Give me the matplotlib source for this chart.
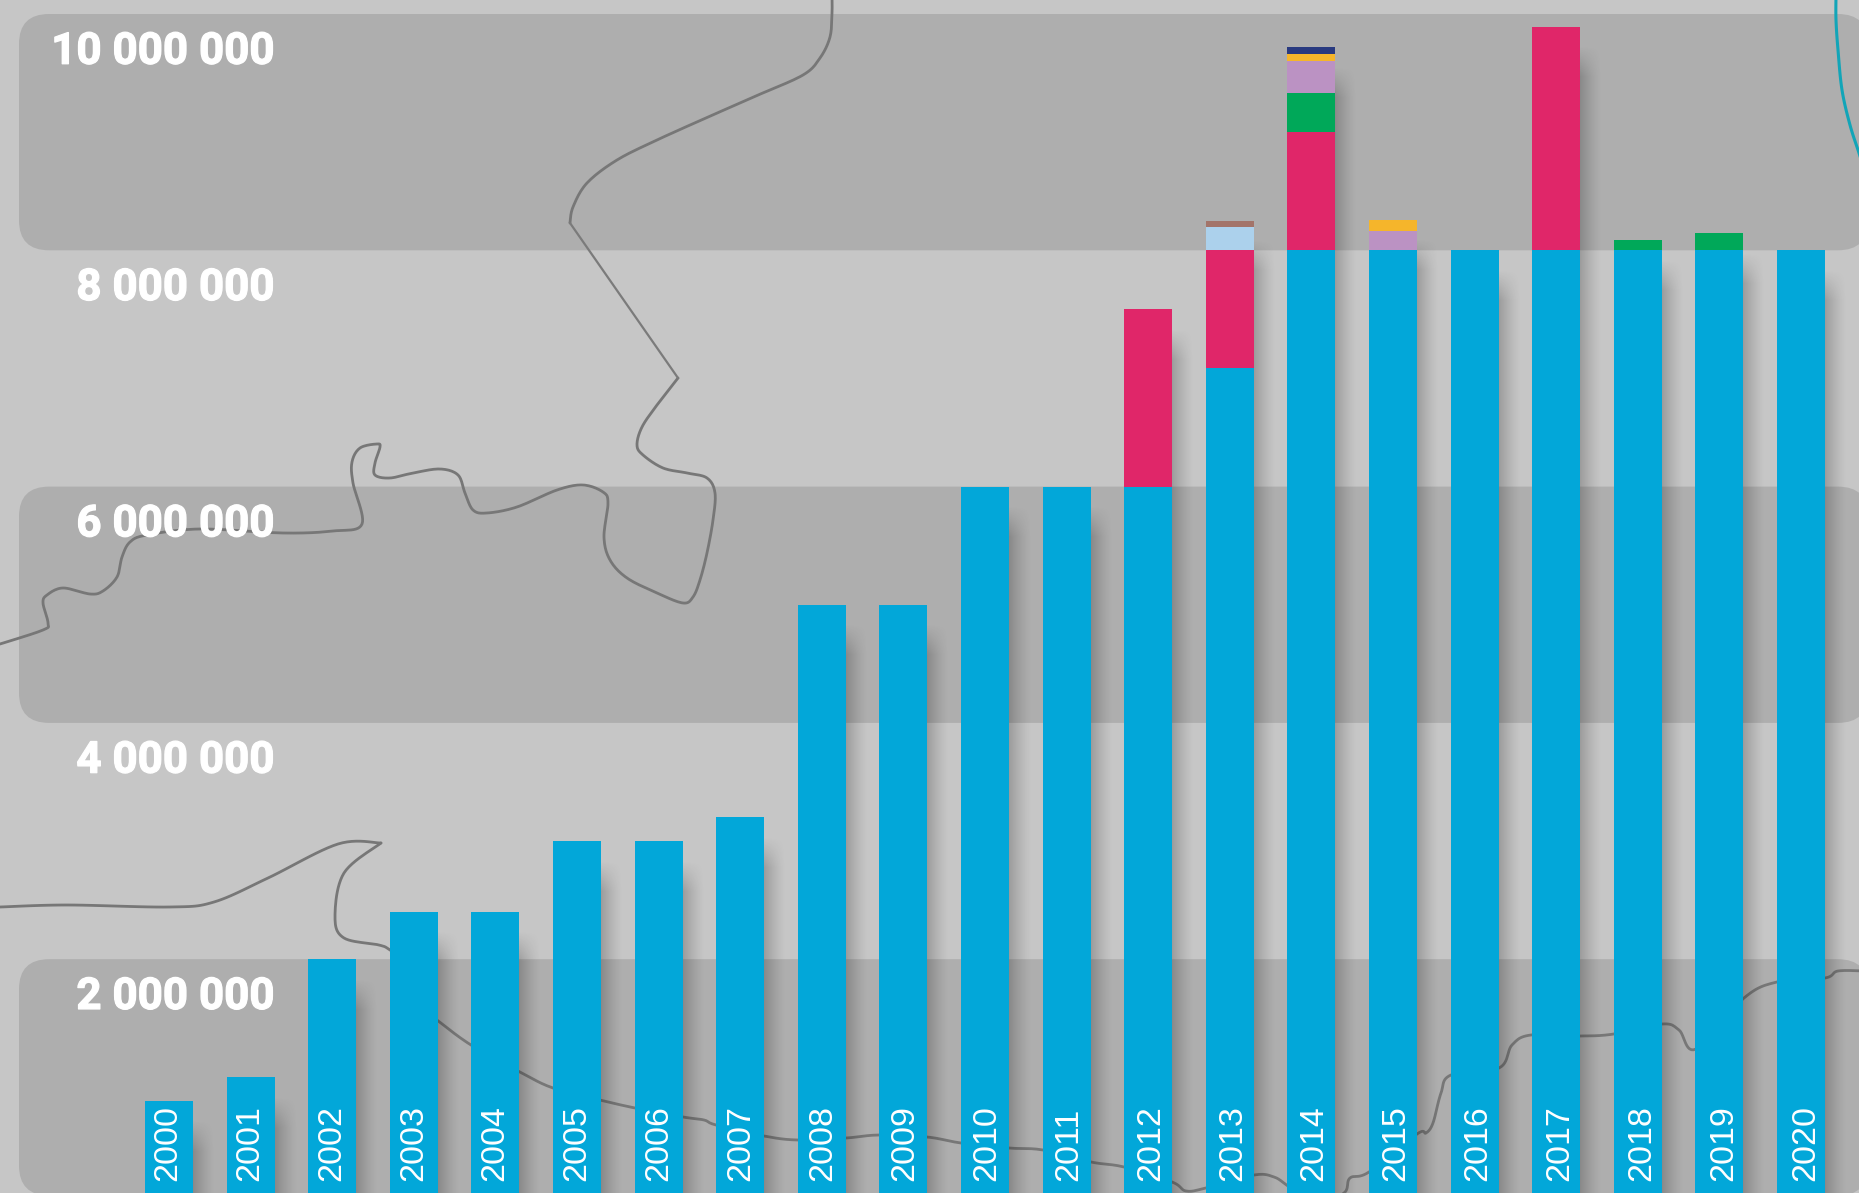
import numpy as np
import matplotlib
matplotlib.use("Agg")
import matplotlib.pyplot as plt
import matplotlib.patheffects as pe
from matplotlib.patches import FancyBboxPatch
from matplotlib.transforms import Affine2D

# ================= DATA =================
years = list(range(2000, 2021))
base = [800000, 1000000, 2000000, 2400000, 2400000, 3000000, 3000000, 3200000,
        5000000, 5000000, 6000000, 6000000, 6000000, 7000000, 8000000, 8000000,
        8000000, 8000000, 8000000, 8000000, 8000000]
pink = [0]*12 + [1500000, 1000000, 1000000, 0, 0, 1890000, 0, 0, 0]
light_blue = [0]*13 + [200000] + [0]*7
brown = [0]*13 + [50000] + [0]*7
green = [0]*14 + [330000, 0, 0, 0, 85000, 145000, 0]
mauve = [0]*14 + [270000, 160000] + [0]*5
yellow = [0]*14 + [60000, 100000] + [0]*5
navy = [0]*14 + [60000] + [0]*6

y_ticks = [2000000, 4000000, 6000000, 8000000, 10000000]
y_labels = ["2 000 000", "4 000 000", "6 000 000", "8 000 000", "10 000 000"]
bands = [(0, 2000000), (4000000, 6000000), (8000000, 10000000)]

# background map outline, traced in image pixels
border_upper = [(832, -5), (832, 13), (830, 37), (820, 58), (803, 75), (757, 95.5), (707, 117.5),
                (657, 140), (617, 160), (587, 183), (573, 207), (570, 223)]
border_middle = [(570, 223), (678, 378)]
border_river = [(678, 378), (657, 405), (642, 427), (637, 445), (643, 455), (663, 468), (687, 473),
                (707, 478), (715, 493), (713, 520), (707, 553), (700, 580), (693, 597), (683, 603),
                (657, 593), (627, 578), (610, 560), (604, 537), (608, 503), (603, 492), (583, 485),
                (557, 490), (517, 507), (487, 513), (473, 510), (465, 493), (458, 475), (440, 469),
                (413, 473), (390, 478), (375, 475), (375, 463), (380, 447), (377, 444), (360, 448),
                (352, 462), (353, 483), (362, 524), (333, 531), (283, 533), (200, 529), (147, 535),
                (130, 542), (122, 557), (117, 577), (103, 591), (90, 594), (63, 588), (47, 595),
                (43, 603), (48, 623), (43, 630), (0, 644)]
border_low_a = [(0, 907), (67, 905), (170, 907), (214, 902), (268, 878), (338, 844), (381, 843)]
border_low_b = [(381, 843), (344, 873), (335, 917), (344, 938), (379, 945), (390, 950), (410, 965),
                (425, 1010), (437, 1020), (471, 1045), (520, 1072), (553, 1088), (600, 1100), (635, 1108),
                (683, 1117), (704, 1120), (716, 1125), (764, 1136), (798, 1140), (846, 1138),
                (879, 1135), (927, 1137), (961, 1143), (1009, 1148), (1043, 1150), (1091, 1162),
                (1124, 1167), (1172, 1182), (1186, 1191), (1206, 1188), (1254, 1175), (1274, 1177),
                (1288, 1186), (1316, 1205), (1344, 1193), (1350, 1178), (1369, 1172), (1417, 1134),
                (1426, 1133), (1433, 1123), (1441, 1093), (1451, 1075), (1499, 1068), (1512, 1045),
                (1531, 1035), (1580, 1036), (1614, 1034), (1662, 1024), (1679, 1030), (1696, 1049),
                (1744, 998), (1777, 982), (1825, 978), (1838, 971), (1865, 971)]
border_teal = [(1836, -5), (1836, 20), (1838, 50), (1842, 90), (1850, 125), (1859, 153), (1866, 175)]


def smooth(points, n=12):
    # catmull-rom through the traced points
    p = np.array(points, dtype=float)
    p = np.vstack([p[0], p, p[-1]])
    out = []
    for i in range(1, len(p) - 2):
        t = np.linspace(0, 1, n, endpoint=False)[:, None]
        out.append(0.5 * (2*p[i] + (p[i+1] - p[i-1])*t
                          + (2*p[i-1] - 5*p[i] + 4*p[i+1] - p[i+2])*t**2
                          + (3*p[i] - p[i-1] - 3*p[i+1] + p[i+2])*t**3))
    out.append(p[-2:-1])
    return np.vstack(out)


# ================= FIGURE =================
W, H = 1859, 1193
fig = plt.figure(figsize=(W/100, H/100), dpi=100, facecolor="#c6c6c6")
ax = fig.add_axes([0, 0, 1, 1], facecolor="#c6c6c6")

# one year = 81.6 px, bar 2000 centred on 169 px, 1 000 000 = 118.15 px, zero at 1195.5 px
xlim = (-169/81.6, (W - 169)/81.6)
ylim = ((1195.5 - H)/118.15*1e6, 1195.5/118.15*1e6)
ax.set_xlim(xlim)
ax.set_ylim(ylim)
ax.axis("off")

px = Affine2D().scale(1, -1).translate(0, H)

# grey bands
for lo, hi in bands:
    top = ax.transData.transform((0, hi))[1]
    bot = ax.transData.transform((0, lo))[1]
    ax.add_patch(FancyBboxPatch((19, bot), 1868 - 19, top - bot,
                                boxstyle="round,pad=0,rounding_size=30",
                                transform=Affine2D(), fc="#aeaeae", ec="none", zorder=1))

# map lines
for line in [border_upper, border_river, border_low_a, border_low_b]:
    xy = smooth(line)
    ax.plot(xy[:, 0], xy[:, 1], color="#777777", lw=2.0, transform=px, zorder=2,
            solid_capstyle="round")
xy = np.array(border_middle)
ax.plot(xy[:, 0], xy[:, 1], color="#7b7b7b", lw=1.6, transform=px, zorder=2)
xy = smooth(border_teal)
ax.plot(xy[:, 0], xy[:, 1], color="#12a5b8", lw=2.2, transform=px, zorder=2)

# ================= BARS =================
x = np.arange(len(years))
bar_w = 48/81.6
layers = [(base, "#02a7d9"), (pink, "#e02669"), (light_blue, "#acd1ec"), (brown, "#a3746a"),
          (green, "#00a859"), (mauve, "#bb92c3"), (yellow, "#f5b52b"), (navy, "#293a80")]

bottom = np.zeros(len(years))
for values, color in layers:
    ax.bar(x, values, bar_w, bottom=bottom, color=color, linewidth=0, zorder=4)
    bottom = bottom + np.array(values)
totals = bottom

# soft shadow on the right side of each bar
shadow_w = 22/81.6
for xi, total in zip(x, totals):
    rows = int(total/1e6*118.15) + 3
    cols = 24
    u = np.linspace(0, 1, cols)
    v = np.arange(rows)  # px below bar top
    fade_x = (1 - u)**1.3
    fade_y = np.clip((v - 20)/30, 0, 1)
    rgba = np.zeros((rows, cols, 4))
    rgba[..., 3] = 0.21*np.outer(fade_y, fade_x)
    left = xi + bar_w/2
    ax.imshow(rgba, extent=(left, left + shadow_w, -3/118.15*1e6, total), origin="upper",
              aspect="auto", interpolation="bilinear", zorder=3)
ax.set_xlim(xlim)
ax.set_ylim(ylim)

# ================= TEXT =================
label_x = (274 - 169)/81.6
for val, lab in zip(y_ticks, y_labels):
    ax.annotate(lab, xy=(label_x, val), xytext=(0, -27.2), textcoords="offset points",
                ha="right", va="center", color="white", fontsize=31.6, fontweight="bold",
                family="Roboto", zorder=6,
                path_effects=[pe.withStroke(linewidth=0.9, foreground="white")])

# year labels sit on a slightly wider pitch than the bars
for xi, year in zip(x, years):
    ax.annotate(str(year), xy=(xi, 0), xytext=(-1.0 + 0.213*xi, 10.6), textcoords="offset points",
                ha="center", va="bottom", rotation=90, color="white", fontsize=24.5,
                family="Liberation Sans", zorder=6, annotation_clip=False)

fig.savefig("out.png", dpi=100, facecolor=fig.get_facecolor())
